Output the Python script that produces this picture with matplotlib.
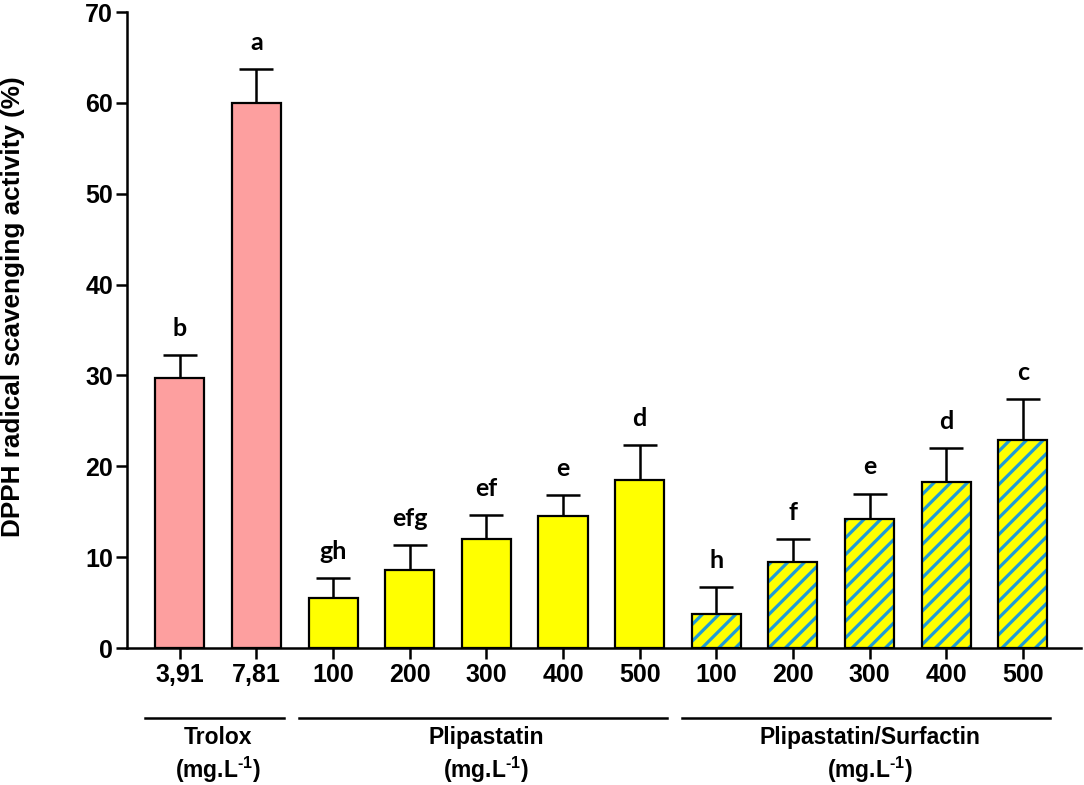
import matplotlib
matplotlib.use("Agg")
import matplotlib.pyplot as plt
import matplotlib.transforms as mtransforms

plt.rcParams['font.family'] = ['Liberation Sans', 'DejaVu Sans']
plt.rcParams['font.weight'] = 'bold'
plt.rcParams['mathtext.fontset'] = 'custom'
plt.rcParams['mathtext.rm'] = 'Liberation Sans:bold'
plt.rcParams['mathtext.it'] = 'Liberation Sans:bold'
plt.rcParams['mathtext.bf'] = 'Liberation Sans:bold'
plt.rcParams['hatch.linewidth'] = 2.3
plt.rcParams['hatch.color'] = '#1f9bd6'

tick_labels = ['3,91', '7,81', '100', '200', '300', '400', '500',
               '100', '200', '300', '400', '500']
values = [29.7, 60.0, 5.5, 8.6, 12.0, 14.5, 18.5, 3.7, 9.5, 14.2, 18.3, 22.9]
errors = [2.5, 3.7, 2.2, 2.7, 2.6, 2.3, 3.8, 3.0, 2.5, 2.8, 3.7, 4.5]
letters = ['b', 'a', 'gh', 'efg', 'ef', 'e', 'd', 'h', 'f', 'e', 'd', 'c']
groups = ['Trolox', 'Plipastatin', 'Plipastatin/Surfactin']
group_sizes = [2, 5, 5]

fig = plt.figure(figsize=(10.84, 7.85), dpi=100)
ax = fig.add_axes([127/1084, 1 - 648/785, (1081-127)/1084, (648-12)/785])

x = list(range(len(values)))
idx = 0
for g, n in enumerate(group_sizes):
    for k in range(n):
        i = idx + k
        if g == 0:
            ax.bar(i, values[i], width=0.64, color='#fd9f9f', edgecolor='black', linewidth=1.6, zorder=2)
        elif g == 1:
            ax.bar(i, values[i], width=0.64, color='#ffff00', edgecolor='black', linewidth=1.6, zorder=2)
        else:
            ax.bar(i, values[i], width=0.64, color='#ffff00', edgecolor='#1f9bd6', linewidth=0, hatch='//', zorder=2)
            ax.bar(i, values[i], width=0.64, color='none', edgecolor='black', linewidth=1.6, zorder=3)
    idx += n

ax.errorbar(x, values, yerr=[[0]*len(values), errors], fmt='none', ecolor='black',
            elinewidth=1.8, capsize=12, capthick=1.8, zorder=1)

for i in x:
    ax.annotate(letters[i], (i, values[i] + errors[i]), xytext=(0, 14), textcoords='offset points',
                ha='center', va='baseline', fontsize=18, fontweight='bold', family=['Lato', 'DejaVu Sans'])

ax.set_xlim(-0.69, 11.76)
ax.set_ylim(0, 70)
ax.set_yticks(range(0, 71, 10))
ax.set_xticks(x)
ax.set_xticklabels(tick_labels)
ax.tick_params(axis='both', direction='out', length=8, width=1.8, labelsize=18, pad=2)
ax.tick_params(axis='x', pad=3)
for lab in ax.get_xticklabels() + ax.get_yticklabels():
    lab.set_fontweight('bold')
for s in ['top', 'right']:
    ax.spines[s].set_visible(False)
for s in ['left', 'bottom']:
    ax.spines[s].set_linewidth(1.8)

fig.text(13/1084, 1 - 307/785, 'DPPH radical scavenging activity (%)', rotation=90,
         ha='center', va='center', fontsize=18.8, fontweight='bold')

trans = mtransforms.blended_transform_factory(ax.transData, ax.transAxes)
start = 0
for g, n in enumerate(group_sizes):
    x0 = start - 0.45
    x1 = start + n - 1 + 0.36
    ax.plot([x0, x1], [-0.110, -0.110], color='black', lw=1.8, transform=trans, clip_on=False)
    cx = start + (n - 1) / 2
    ax.text(cx, -0.151, groups[g], transform=trans, ha='center', va='baseline', fontsize=16.5, fontweight='bold')
    ax.text(cx, -0.205, '(mg.L$^{\u20101}$)', transform=trans, ha='center', va='baseline', fontsize=16.5, fontweight='bold')
    start += n

fig.savefig('out.png', dpi=100)
